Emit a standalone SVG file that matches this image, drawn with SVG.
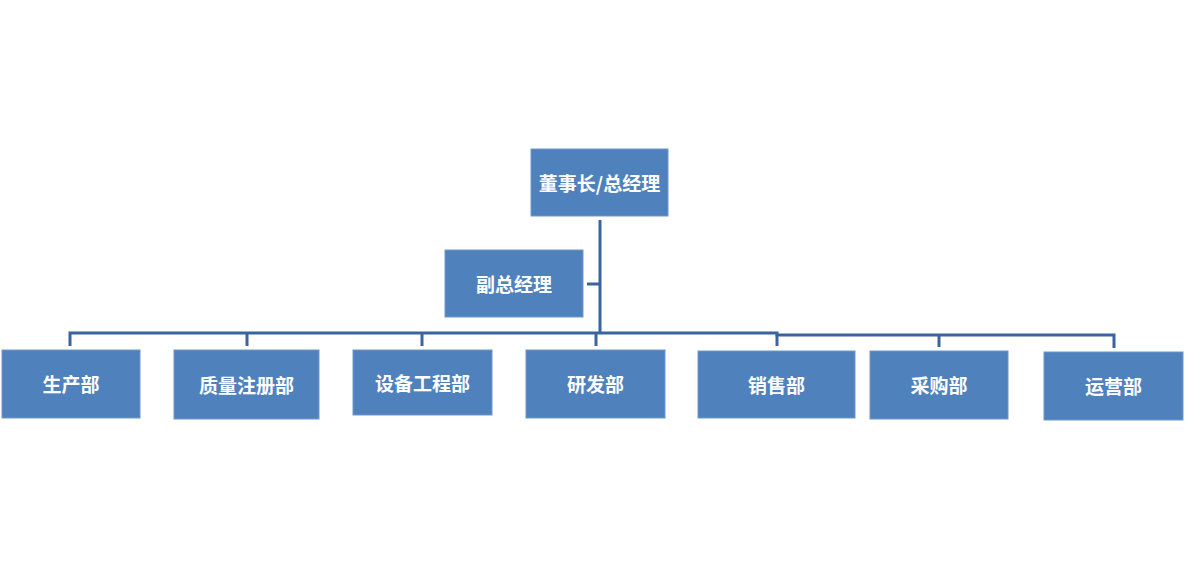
<svg xmlns="http://www.w3.org/2000/svg" width="1200" height="567" viewBox="0 0 1200 567">
<style>
.box{fill:#4F81BD;stroke:#6E98CC;stroke-width:1}
.lbl{fill:#FFFFFF;font-family:"Noto Sans CJK SC","Noto Sans",sans-serif;font-weight:bold;font-size:19px;text-anchor:middle;dominant-baseline:central}
.ln{fill:none;stroke:#3A64A0;stroke-width:3}
</style>
<rect width="1200" height="567" fill="#FFFFFF"/>
<g id="connectors">
<path class="ln" d="M600,220 V333"/>
<path class="ln" d="M587,284 H600"/>
<path class="ln" d="M70,346 V333 H777 V335 H1114 V348"/>
<path class="ln" d="M247,333 V346"/>
<path class="ln" d="M422,333 V346"/>
<path class="ln" d="M596,333 V346"/>
<path class="ln" d="M777,335 V346"/>
<path class="ln" d="M939,335 V347"/>
</g>
<g id="n-ceo"><rect class="box" x="531" y="149" width="137" height="67"/><text class="lbl" x="599.5" y="182">董事长/总经理</text></g>
<g id="n-vgm"><rect class="box" x="445" y="250" width="138" height="67"/><text class="lbl" x="514" y="283">副总经理</text></g>
<g id="n-prod"><rect class="box" x="2" y="350" width="138" height="68"/><text class="lbl" x="71" y="383.5">生产部</text></g>
<g id="n-qa"><rect class="box" x="174" y="350" width="145" height="69"/><text class="lbl" x="246.5" y="384">质量注册部</text></g>
<g id="n-eng"><rect class="box" x="353" y="350" width="139" height="65"/><text class="lbl" x="422.5" y="382">设备工程部</text></g>
<g id="n-rd"><rect class="box" x="526" y="350" width="139" height="68"/><text class="lbl" x="595.5" y="383.5">研发部</text></g>
<g id="n-sales"><rect class="box" x="698" y="351" width="157" height="67"/><text class="lbl" x="776.5" y="384">销售部</text></g>
<g id="n-purch"><rect class="box" x="870" y="351" width="138" height="68"/><text class="lbl" x="939" y="384.5">采购部</text></g>
<g id="n-ops"><rect class="box" x="1044" y="352" width="139" height="68"/><text class="lbl" x="1113.5" y="385.5">运营部</text></g>
</svg>
